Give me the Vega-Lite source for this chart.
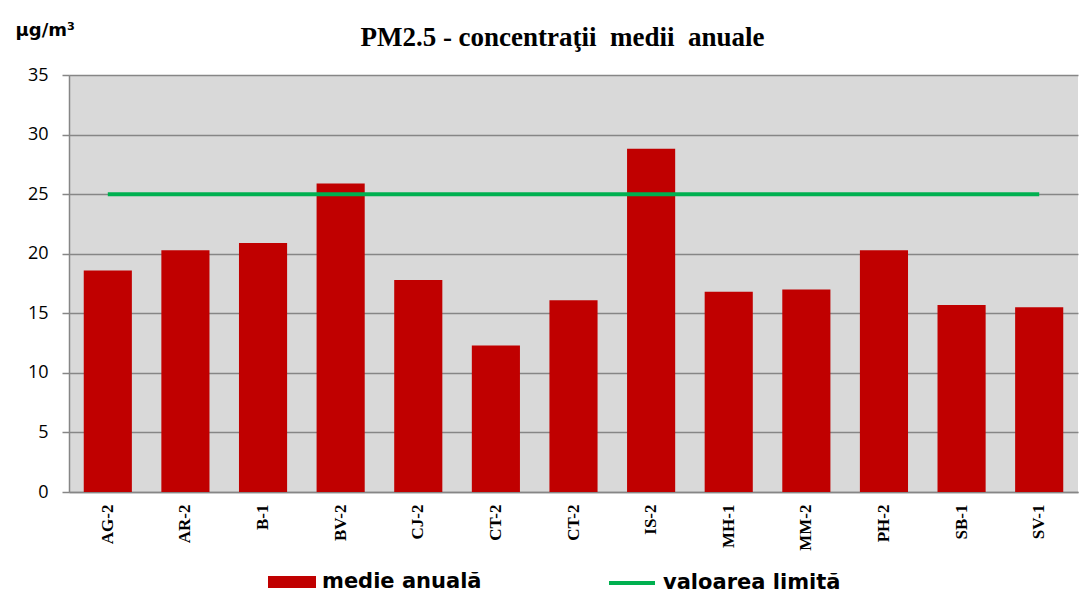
{
  "$schema": "https://vega.github.io/schema/vega-lite/v6.json",
  "autosize": {"type": "none"},
  "width": 1009,
  "height": 417,
  "padding": {"left": 69, "top": 75, "right": 9, "bottom": 123},
  "background": "white",
  "title": {
    "text": "PM2.5 - concentraţii\u00a0 medii\u00a0 anuale",
    "font": "Liberation Serif",
    "fontSize": 27,
    "fontWeight": "bold",
    "color": "black",
    "anchor": "middle",
    "baseline": "alphabetic",
    "dx": -11,
    "offset": -52
  },
  "data": {
    "values": [
      {"statie": "AG-2", "medie": 18.6, "limita": 25},
      {"statie": "AR-2", "medie": 20.3, "limita": 25},
      {"statie": "B-1", "medie": 20.9, "limita": 25},
      {"statie": "BV-2", "medie": 25.9, "limita": 25},
      {"statie": "CJ-2", "medie": 17.8, "limita": 25},
      {"statie": "CT-2", "medie": 12.3, "limita": 25},
      {"statie": "CT-2 ", "medie": 16.1, "limita": 25},
      {"statie": "IS-2", "medie": 28.8, "limita": 25},
      {"statie": "MH-1", "medie": 16.8, "limita": 25},
      {"statie": "MM-2", "medie": 17.0, "limita": 25},
      {"statie": "PH-2", "medie": 20.3, "limita": 25},
      {"statie": "SB-1", "medie": 15.7, "limita": 25},
      {"statie": "SV-1", "medie": 15.5, "limita": 25}
    ]
  },
  "encoding": {
    "x": {
      "field": "statie",
      "type": "nominal",
      "sort": null,
      "scale": {"paddingInner": 0.38, "paddingOuter": 0.19},
      "axis": {
        "title": null,
        "labelAngle": -90,
        "labelAlign": "right",
        "labelBaseline": "middle",
        "labelFont": "Liberation Serif",
        "labelFontWeight": "bold",
        "labelFontSize": 17,
        "labelColor": "black",
        "labelPadding": 12,
        "ticks": false,
        "domainColor": "#868686",
        "domainWidth": 1.5,
        "grid": false
      }
    }
  },
  "layer": [
    {
      "mark": {"type": "bar"},
      "encoding": {
        "y": {
          "field": "medie",
          "type": "quantitative",
          "scale": {"domain": [0, 35], "nice": false},
          "axis": {
            "values": [0, 5, 10, 15, 20, 25, 30, 35],
            "title": "µg/m³",
            "titleAngle": 0,
            "titleAlign": "left",
            "titleBaseline": "alphabetic",
            "titleX": -54,
            "titleY": -40,
            "titleFont": "DejaVu Sans",
            "titleFontSize": 18,
            "titleFontWeight": "bold",
            "titleColor": "black",
            "labelFont": "Open Sans",
            "labelFontSize": 18,
            "labelColor": "black",
            "labelPadding": 14,
            "tickSize": 7,
            "tickColor": "#868686",
            "tickWidth": 1.5,
            "domainColor": "#868686",
            "domainWidth": 1.5,
            "grid": true,
            "gridColor": "#868686",
            "gridWidth": 1.5
          }
        },
        "fill": {
          "datum": "medie anuală",
          "type": "nominal",
          "scale": {"domain": ["medie anuală"], "range": ["#C00000"]},
          "legend": {
            "orient": "none",
            "legendX": 199,
            "legendY": 483,
            "title": null,
            "symbolType": "M-1,-0.25H1V0.25H-1Z",
            "symbolSize": 2304,
            "symbolStrokeWidth": 0,
            "symbolOpacity": 1,
            "labelOffset": 6,
            "labelLimit": 0,
            "labelFont": "DejaVu Sans",
            "labelFontSize": 21,
            "labelFontWeight": "bold",
            "labelColor": "black"
          }
        }
      }
    },
    {
      "mark": {"type": "line", "strokeWidth": 4},
      "encoding": {
        "y": {"field": "limita", "type": "quantitative"},
        "stroke": {
          "datum": "valoarea limită",
          "type": "nominal",
          "scale": {"domain": ["valoarea limită"], "range": ["#00B050"]},
          "legend": {
            "orient": "none",
            "legendX": 538,
            "legendY": 483,
            "title": null,
            "symbolType": "stroke",
            "symbolSize": 2116,
            "symbolStrokeWidth": 4,
            "labelOffset": 6,
            "labelLimit": 0,
            "labelFont": "DejaVu Sans",
            "labelFontSize": 21,
            "labelFontWeight": "bold",
            "labelColor": "black"
          }
        }
      }
    }
  ],
  "config": {
    "view": {"fill": "#D9D9D9", "stroke": null}
  }
}
